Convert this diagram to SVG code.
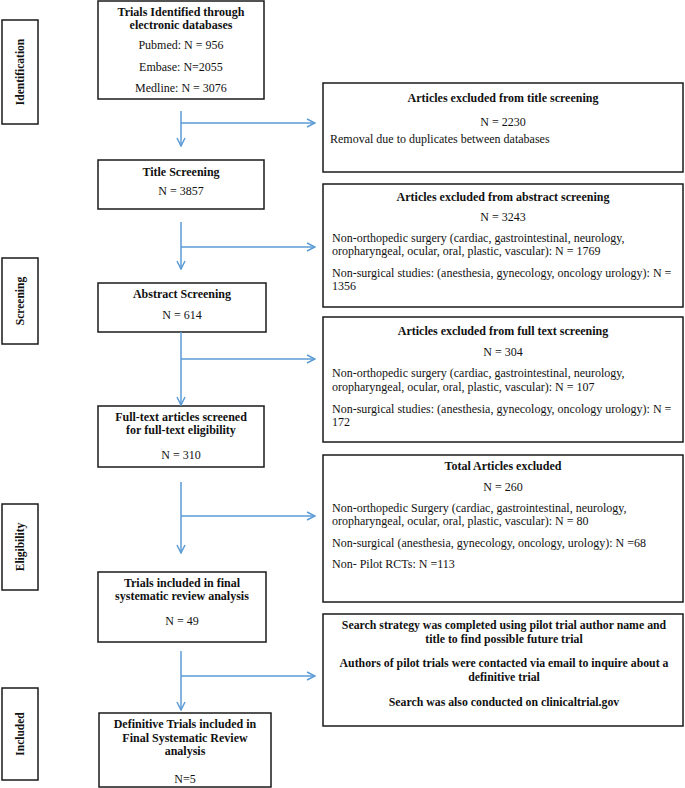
<svg xmlns="http://www.w3.org/2000/svg" width="685" height="788" viewBox="0 0 685 788">
<style>
.box{fill:#fff;stroke:#1a1a1a;stroke-width:1.5}
.t{font-family:"Liberation Serif","Times New Roman",serif;font-size:12px;fill:#111}
.b{font-weight:bold}
.c{text-anchor:middle}
.lab{font-size:11.5px}
.sm{font-size:11.8px}
.conn{fill:none;stroke:#5b9bd5;stroke-width:1.5}
</style>
<defs>
<marker id="ah" viewBox="0 0 10 10" refX="9" refY="5" markerWidth="10" markerHeight="10" markerUnits="userSpaceOnUse" orient="auto">
<path d="M1,1 L9,5 L1,9" fill="none" stroke="#5b9bd5" stroke-width="1.5"/>
</marker>
</defs>
<rect width="685" height="788" fill="#fff"/>

<g id="stage-identification">
<rect class="box" x="2" y="20" width="36" height="104"/>
<text class="t b c lab" transform="translate(24,72) rotate(-90)">Identification</text>
</g>
<g id="stage-screening">
<rect class="box" x="2" y="258" width="36" height="86"/>
<text class="t b c lab" transform="translate(24,301) rotate(-90)">Screening</text>
</g>
<g id="stage-eligibility">
<rect class="box" x="2" y="504" width="36" height="86"/>
<text class="t b c lab" transform="translate(24,547) rotate(-90)">Eligibility</text>
</g>
<g id="stage-included">
<rect class="box" x="2" y="688" width="36" height="92"/>
<text class="t b c lab" transform="translate(24,734) rotate(-90)">Included</text>
</g>

<g id="identified">
<rect class="box" x="98" y="1" width="166" height="98"/>
<text class="t b c" x="181" y="15.5">Trials Identified through</text>
<text class="t b c" x="181" y="28.5">electronic databases</text>
<text class="t c" x="181" y="49">Pubmed: N = 956</text>
<text class="t c" x="181" y="71">Embase: N=2055</text>
<text class="t c" x="181" y="92">Medline: N = 3076</text>
</g>
<g id="title-screening">
<rect class="box" x="98" y="160" width="166" height="49"/>
<text class="t b c" x="181" y="176">Title Screening</text>
<text class="t c" x="181" y="195">N = 3857</text>
</g>
<g id="abstract-screening">
<rect class="box" x="98" y="283" width="168" height="49"/>
<text class="t b c" x="182" y="298">Abstract Screening</text>
<text class="t c" x="182" y="319">N = 614</text>
</g>
<g id="fulltext">
<rect class="box" x="98" y="406" width="166" height="61"/>
<text class="t b c" x="181" y="421">Full-text articles screened</text>
<text class="t b c" x="181" y="434">for full-text eligibility</text>
<text class="t c" x="181" y="459">N = 310</text>
</g>
<g id="final-review">
<rect class="box" x="98" y="572" width="168" height="70"/>
<text class="t b c" x="182" y="587">Trials included in final</text>
<text class="t b c" x="182" y="600">systematic review analysis</text>
<text class="t c" x="182" y="625">N = 49</text>
</g>
<g id="definitive">
<rect class="box" x="99" y="713" width="172" height="74"/>
<text class="t b c" x="185" y="728">Definitive Trials included in</text>
<text class="t b c" x="185" y="742">Final Systematic Review</text>
<text class="t b c" x="185" y="755">analysis</text>
<text class="t c" x="185" y="783">N=5</text>
</g>

<g id="excl-title">
<rect class="box" x="323" y="83" width="360" height="89"/>
<text class="t b c" x="503" y="102">Articles excluded from title screening</text>
<text class="t c" x="503" y="126">N = 2230</text>
<text class="t" x="330" y="143">Removal due to duplicates between databases</text>
</g>
<g id="excl-abstract">
<rect class="box" x="323" y="184" width="360" height="123"/>
<text class="t b c" x="503" y="201">Articles excluded from abstract screening</text>
<text class="t c" x="503" y="221">N = 3243</text>
<text class="t" x="332" y="242">Non-orthopedic surgery (cardiac, gastrointestinal, neurology,</text>
<text class="t" x="332" y="255">oropharyngeal, ocular, oral, plastic, vascular): N = 1769</text>
<text class="t" x="332" y="276.5">Non-surgical studies: (anesthesia, gynecology, oncology urology): N =</text>
<text class="t" x="332" y="290">1356</text>
</g>
<g id="excl-fulltext">
<rect class="box" x="323" y="317" width="360" height="125"/>
<text class="t b c" x="503" y="335">Articles excluded from full text screening</text>
<text class="t c" x="503" y="356">N = 304</text>
<text class="t" x="332" y="377">Non-orthopedic surgery (cardiac, gastrointestinal, neurology,</text>
<text class="t" x="332" y="390.5">oropharyngeal, ocular, oral, plastic, vascular): N = 107</text>
<text class="t" x="332" y="412.5">Non-surgical studies: (anesthesia, gynecology, oncology urology): N =</text>
<text class="t" x="332" y="426">172</text>
</g>
<g id="excl-total">
<rect class="box" x="323" y="455" width="360" height="147"/>
<text class="t b c" x="503" y="470">Total Articles excluded</text>
<text class="t c" x="503" y="491">N = 260</text>
<text class="t" x="332" y="512">Non-orthopedic Surgery (cardiac, gastrointestinal, neurology,</text>
<text class="t" x="332" y="525">oropharyngeal, ocular, oral, plastic, vascular): N = 80</text>
<text class="t" x="332" y="547">Non-surgical (anesthesia, gynecology, oncology, urology): N =68</text>
<text class="t" x="332" y="568">Non- Pilot RCTs: N =113</text>
</g>
<g id="search-strategy">
<rect class="box" x="323" y="614" width="360" height="112"/>
<text class="t b c sm" x="504" y="629">Search strategy was completed using pilot trial author name and</text>
<text class="t b c sm" x="504" y="643">title to find possible future trial</text>
<text class="t b c sm" x="504" y="667">Authors of pilot trials were contacted via email to inquire about a</text>
<text class="t b c sm" x="504" y="681">definitive trial</text>
<text class="t b c sm" x="504" y="706">Search was also conducted on clinicaltrial.gov</text>
</g>

<g id="connectors">
<path class="conn" d="M181,111 V146" marker-end="url(#ah)"/>
<path class="conn" d="M181,123 H315" marker-end="url(#ah)"/>
<path class="conn" d="M181,222 V269" marker-end="url(#ah)"/>
<path class="conn" d="M181,247 H315" marker-end="url(#ah)"/>
<path class="conn" d="M181,332 V405" marker-end="url(#ah)"/>
<path class="conn" d="M181,359 H315" marker-end="url(#ah)"/>
<path class="conn" d="M181,482 V553" marker-end="url(#ah)"/>
<path class="conn" d="M181,516 H315" marker-end="url(#ah)"/>
<path class="conn" d="M181,651 V710" marker-end="url(#ah)"/>
<path class="conn" d="M181,676 H315" marker-end="url(#ah)"/>
</g>
</svg>
